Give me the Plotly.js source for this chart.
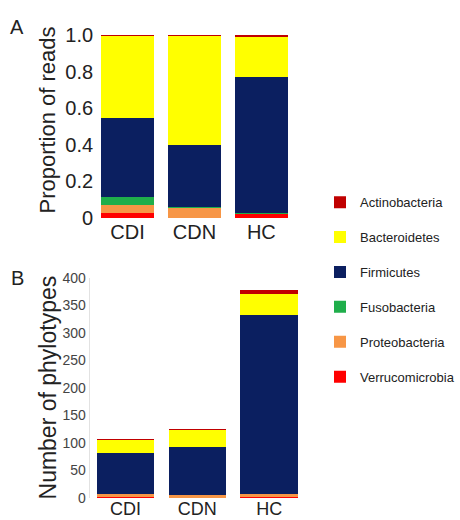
<!DOCTYPE html>
<html>
<head>
<meta charset="utf-8">
<script src="https://cdn.plot.ly/plotly-3.0.1.min.js"></script>
<style>html,body{margin:0;padding:0;background:#fff;}#chart{width:460px;height:520px;}</style>
</head>
<body>
<div id="chart"></div>
<script>
// Categories
const groups = ['CDI', 'CDN', 'HC'];
// Phyla, listed bottom-of-stack first
const phyla = ['Verrucomicrobia', 'Proteobacteria', 'Fusobacteria', 'Firmicutes', 'Bacteroidetes', 'Actinobacteria'];
const phylumColors = ['#ff0000', '#f79646', '#1fae4b', '#0b1f60', '#ffff00', '#c00000'];

// Panel A: proportion of reads (CDI, CDN, HC)
const readsVerrucomicrobia = [0.027, 0.000, 0.020];
const readsProteobacteria  = [0.045, 0.055, 0.004];
const readsFusobacteria    = [0.043, 0.005, 0.001];
const readsFirmicutes      = [0.430, 0.340, 0.747];
const readsBacteroidetes   = [0.452, 0.597, 0.217];
const readsActinobacteria  = [0.003, 0.003, 0.011];

// Panel B: number of phylotypes (CDI, CDN, HC)
const phyVerrucomicrobia = [1, 0, 2];
const phyProteobacteria  = [6, 6, 5];
const phyFusobacteria    = [0, 0, 0];
const phyFirmicutes      = [75, 86, 325];
const phyBacteroidetes   = [24, 32, 38];
const phyActinobacteria  = [2, 2, 8];

// Tick labels
const readsTickVals = [0, 0.2, 0.4, 0.6, 0.8, 1.0];
const readsTickText = ['0', '0.2', '0.4', '0.6', '0.8', '1.0'];
const phyTickVals = [0, 50, 100, 150, 200, 250, 300, 350, 400];

const readsSeries = [readsVerrucomicrobia, readsProteobacteria, readsFusobacteria, readsFirmicutes, readsBacteroidetes, readsActinobacteria];
const phySeries = [phyVerrucomicrobia, phyProteobacteria, phyFusobacteria, phyFirmicutes, phyBacteroidetes, phyActinobacteria];

const FONT = 'Liberation Sans, Arial, sans-serif';
const traces = [];
phyla.forEach((name, i) => {
  traces.push({
    type: 'bar', x: groups, y: readsSeries[i], name: name,
    marker: {color: phylumColors[i], line: {width: 0}},
    xaxis: 'x', yaxis: 'y', legendgroup: name, showlegend: true,
    legendrank: phyla.length - i,
    hoverinfo: 'x+y+name'
  });
});
phyla.forEach((name, i) => {
  traces.push({
    type: 'bar', x: groups, y: phySeries[i], name: name,
    marker: {color: phylumColors[i], line: {width: 0}},
    xaxis: 'x2', yaxis: 'y2', legendgroup: name, showlegend: false,
    legendrank: phyla.length - i,
    hoverinfo: 'x+y+name'
  });
});

const layout = {
  width: 460, height: 520,
  margin: {l: 0, r: 0, t: 0, b: 0},
  paper_bgcolor: '#fff', plot_bgcolor: '#fff',
  barmode: 'stack', bargap: 0.2,
  font: {family: FONT, color: '#222'},
  xaxis: {
    domain: [0.211, 0.661], anchor: 'y',
    showgrid: false, zeroline: false, showline: false, ticks: '',
    tickfont: {size: 20, color: '#222'}
  },
  yaxis: {
    domain: [0.5808, 0.9327], anchor: 'x', range: [0, 1.0],
    showgrid: false, zeroline: false, showline: false, ticks: '',
    tickvals: readsTickVals, ticktext: readsTickText,
    tickfont: {size: 20, color: '#222'}
  },
  xaxis2: {
    domain: [0.201, 0.684], anchor: 'y2',
    showgrid: false, zeroline: false, showline: false, ticks: '',
    tickfont: {size: 18, color: '#222'}, ticklabelstandoff: -2
  },
  yaxis2: {
    domain: [0.0423, 0.4654], anchor: 'x2', range: [0, 400],
    showgrid: false, zeroline: false, showline: true, linecolor: '#e2e2e2', linewidth: 1,
    ticks: '', tickvals: phyTickVals,
    tickfont: {size: 14, color: '#444'}
  },
  legend: {
    x: 0.718, y: 0.64, xanchor: 'left', yanchor: 'top',
    traceorder: 'grouped', tracegroupgap: 15,
    font: {size: 13, color: '#222', family: FONT},
    bgcolor: 'rgba(0,0,0,0)'
  },
  annotations: [
    {text: 'A', x: 18 / 460, y: 1 - 27 / 520, xref: 'paper', yref: 'paper', showarrow: false,
     xanchor: 'center', yanchor: 'middle', font: {size: 20, color: '#222'}},
    {text: 'B', x: 18 / 460, y: 1 - 278 / 520, xref: 'paper', yref: 'paper', showarrow: false,
     xanchor: 'center', yanchor: 'middle', font: {size: 20, color: '#222'}},
    {text: 'Proportion of reads', x: 48 / 460, y: 1 - 120 / 520, xref: 'paper', yref: 'paper',
     showarrow: false, textangle: -90, xanchor: 'center', yanchor: 'middle',
     font: {size: 22, color: '#222'}},
    {text: 'Number of phylotypes', x: 50 / 460, y: 1 - 387 / 520, xref: 'paper', yref: 'paper',
     showarrow: false, textangle: -90, xanchor: 'center', yanchor: 'middle',
     font: {size: 23, color: '#222'}}
  ]
};

Plotly.newPlot('chart', traces, layout, {displayModeBar: false, staticPlot: true});
</script>
</body>
</html>
